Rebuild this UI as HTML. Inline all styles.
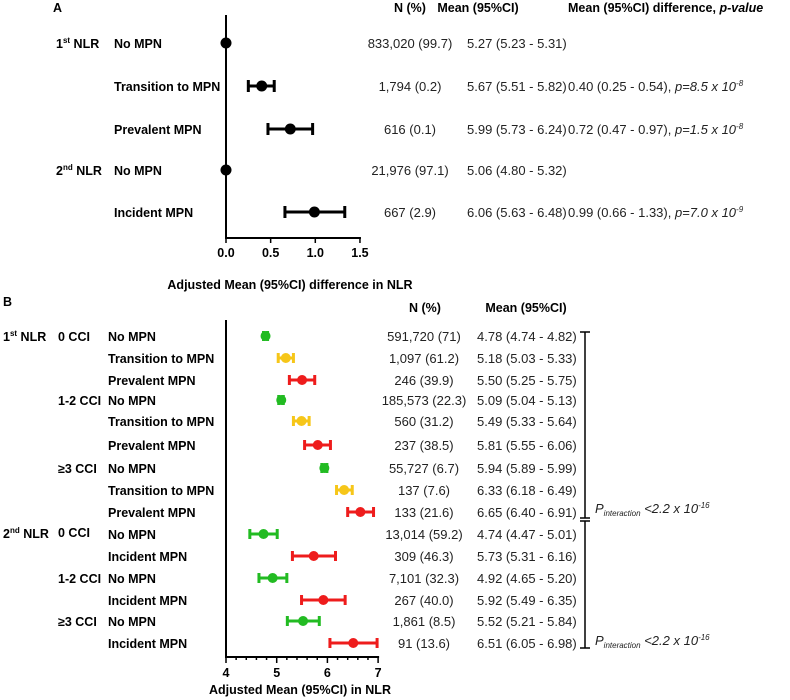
<!DOCTYPE html>
<html><head><meta charset="utf-8"><style>
body{margin:0;background:#fff}
svg{display:block;font-family:"Liberation Sans",Arial,sans-serif}
.b{font-weight:bold;font-size:12.5px}
.t{font-size:13px;fill:#222}
</style></head><body>
<svg id="c" width="790" height="700" viewBox="0 0 790 700">
<text x="53" y="12" class="b">A</text>
<text x="410" y="12" class="b" text-anchor="middle">N (%)</text>
<text x="478" y="12" class="b" text-anchor="middle">Mean (95%CI)</text>
<text x="568" y="12" class="b">Mean (95%CI) difference, <tspan font-style="italic">p-value</tspan></text>
<text x="56" y="48" class="b">1<tspan font-size="8" dy="-5">st</tspan><tspan dy="5"> NLR</tspan></text>
<text x="56" y="175" class="b">2<tspan font-size="8" dy="-5">nd</tspan><tspan dy="5"> NLR</tspan></text>
<g id="ga"></g>
<text x="290" y="289" class="b" text-anchor="middle">Adjusted Mean (95%CI) difference in NLR</text>

<text x="3" y="306" class="b">B</text>
<text x="425" y="312" class="b" text-anchor="middle">N (%)</text>
<text x="526" y="312" class="b" text-anchor="middle">Mean (95%CI)</text>
<text x="3" y="341" class="b">1<tspan font-size="8" dy="-5">st</tspan><tspan dy="5"> NLR</tspan></text>
<text x="3" y="538" class="b">2<tspan font-size="8" dy="-5">nd</tspan><tspan dy="5"> NLR</tspan></text>
<g id="gb"></g>
<text x="300" y="694" class="b" text-anchor="middle">Adjusted Mean (95%CI) in NLR</text>
<g stroke="#000" stroke-width="1.5">
<line x1="585" y1="332" x2="585" y2="518"/><line x1="580" y1="332" x2="590" y2="332"/>
<line x1="580" y1="518" x2="590" y2="518"/><line x1="580" y1="521" x2="590" y2="521"/>
<line x1="585" y1="521" x2="585" y2="648"/><line x1="580" y1="648" x2="590" y2="648"/>
</g>
<text x="595" y="513" class="t" font-style="italic">P<tspan font-size="8" dy="3">interaction</tspan><tspan dy="-3"> &lt;2.2 x 10</tspan><tspan font-size="8" dy="-5">-16</tspan></text>
<text x="595" y="645" class="t" font-style="italic">P<tspan font-size="8" dy="3">interaction</tspan><tspan dy="-3"> &lt;2.2 x 10</tspan><tspan font-size="8" dy="-5">-16</tspan></text>
</svg>
<script>
const NS="http://www.w3.org/2000/svg";
const aLabels=["No MPN","Transition to MPN","Prevalent MPN","No MPN","Incident MPN"];
const aEst=[0,0.40,0.72,0,0.99];
const aLo=[0,0.25,0.47,0,0.66];
const aHi=[0,0.54,0.97,0,1.33];
const aN=["833,020 (99.7)","1,794 (0.2)","616 (0.1)","21,976 (97.1)","667 (2.9)"];
const aMean=["5.27 (5.23 - 5.31)","5.67 (5.51 - 5.82)","5.99 (5.73 - 6.24)","5.06 (4.80 - 5.32)","6.06 (5.63 - 6.48)"];
const aDiff=["","0.40 (0.25 - 0.54), ","0.72 (0.47 - 0.97), ","","0.99 (0.66 - 1.33), "];
const aP=["","8.5","1.5","","7.0"];
const aPexp=["","-8","-8","","-9"];
const aTicks=[0,0.5,1.0,1.5];

const bCci=["0 CCI","","","1-2 CCI","","","≥3 CCI","","","0 CCI","","1-2 CCI","","≥3 CCI",""];
const bLabels=["No MPN","Transition to MPN","Prevalent MPN","No MPN","Transition to MPN","Prevalent MPN","No MPN","Transition to MPN","Prevalent MPN","No MPN","Incident MPN","No MPN","Incident MPN","No MPN","Incident MPN"];
const bEst=[4.78,5.18,5.50,5.09,5.49,5.81,5.94,6.33,6.65,4.74,5.73,4.92,5.92,5.52,6.51];
const bLo=[4.74,5.03,5.25,5.04,5.33,5.55,5.89,6.18,6.40,4.47,5.31,4.65,5.49,5.21,6.05];
const bHi=[4.82,5.33,5.75,5.13,5.64,6.06,5.99,6.49,6.91,5.01,6.16,5.20,6.35,5.84,6.98];
const bN=["591,720 (71)","1,097 (61.2)","246 (39.9)","185,573 (22.3)","560 (31.2)","237 (38.5)","55,727 (6.7)","137 (7.6)","133 (21.6)","13,014 (59.2)","309 (46.3)","7,101 (32.3)","267 (40.0)","1,861 (8.5)","91 (13.6)"];
const bMean=["4.78 (4.74 - 4.82)","5.18 (5.03 - 5.33)","5.50 (5.25 - 5.75)","5.09 (5.04 - 5.13)","5.49 (5.33 - 5.64)","5.81 (5.55 - 6.06)","5.94 (5.89 - 5.99)","6.33 (6.18 - 6.49)","6.65 (6.40 - 6.91)","4.74 (4.47 - 5.01)","5.73 (5.31 - 6.16)","4.92 (4.65 - 5.20)","5.92 (5.49 - 6.35)","5.52 (5.21 - 5.84)","6.51 (6.05 - 6.98)"];
const bType=["no","tr","pr","no","tr","pr","no","tr","pr","no","pr","no","pr","no","pr"];
const bTicks=[4,5,6,7];
const colors={no:"#22bb22",tr:"#f6c619",pr:"#ee1c1c"};

const aRowY=[43,86,129,170,212];
const bRowY=[336,358,380,400,421,445,468,490,512,534,556,578,600,621,643];
const ax=v=>226+v*89.3;
const bx=v=>226+(v-4)*50.7;

function el(p,tag,at,txt){const e=document.createElementNS(NS,tag);for(const k in at)e.setAttribute(k,at[k]);if(txt!==undefined)e.textContent=txt;p.appendChild(e);return e;}

// Panel A
const ga=document.getElementById("ga");
let ln=el(ga,"line",{x1:226,y1:15,x2:226,y2:238,stroke:"#000","stroke-width":2});


ln=el(ga,"line",{x1:225,y1:238,x2:ax(1.5)+1,y2:238,stroke:"#000","stroke-width":2});


aTicks.forEach((t,i)=>{
  const tk=el(ga,"line",{x1:ax(t),y1:238,x2:ax(t),y2:243,stroke:"#000","stroke-width":1.5});
  
  
  const tl=el(ga,"text",{x:ax(t),y:257,"text-anchor":"middle",class:"b"},t.toFixed(1));
  
  
});
aLabels.forEach((l,i)=>{
  const y=aRowY[i];
  const lb=el(ga,"text",{x:114,y:y+5,class:"b"},l);
  
  
  if(aHi[i]>aLo[i]){
    const g=el(ga,"g",{stroke:"#000","stroke-width":3});
    
    
    el(g,"line",{x1:ax(aLo[i]),y1:y,x2:ax(aHi[i]),y2:y});
    el(g,"line",{x1:ax(aLo[i]),y1:y-6,x2:ax(aLo[i]),y2:y+6});
    el(g,"line",{x1:ax(aHi[i]),y1:y-6,x2:ax(aHi[i]),y2:y+6});
  }
  const c=el(ga,"circle",{cx:ax(aEst[i]),cy:y,r:5.5,fill:"#000"});
  
  
  const n=el(ga,"text",{x:410,y:y+5,"text-anchor":"middle",class:"t"},aN[i]);
  
  
  const m=el(ga,"text",{x:467,y:y+5,class:"t"},aMean[i]);
  
  
  if(aDiff[i]){
    const d=el(ga,"text",{x:568,y:y+5,class:"t"},aDiff[i]);
    
    
    el(d,"tspan",{"font-style":"italic"},"p="+aP[i]+" x 10");
    el(d,"tspan",{"font-style":"italic","font-size":"8",dy:"-5"},aPexp[i]);
  }
});

// Panel B
const gb=document.getElementById("gb");
ln=el(gb,"line",{x1:226,y1:320,x2:226,y2:657,stroke:"#000","stroke-width":2});


ln=el(gb,"line",{x1:225,y1:657,x2:bx(7)+1,y2:657,stroke:"#000","stroke-width":2});


for(let v=4;v<=7.001;v+=0.2){
  const big=Math.abs(v-Math.round(v))<0.01;
  const tk=el(gb,"line",{x1:bx(v),y1:657,x2:bx(v),y2:big?663:660,stroke:"#000","stroke-width":1.5});
  
  
}
bTicks.forEach(t=>{
  const tl=el(gb,"text",{x:bx(t),y:677,"text-anchor":"middle",class:"b"},String(t));
  
  
});
bLabels.forEach((l,i)=>{
  const y=bRowY[i];
  if(bCci[i]){
    const cc=el(gb,"text",{x:58,y:(i===9?y-2:y)+5,class:"b"},bCci[i]);
    
    
  }
  const lb=el(gb,"text",{x:108,y:y+5,class:"b"},l);
  
  
  const col=colors[bType[i]];
  const g=el(gb,"g",{stroke:col,"stroke-width":3});
  
  
  el(g,"line",{x1:bx(bLo[i]),y1:y,x2:bx(bHi[i]),y2:y});
  el(g,"line",{x1:bx(bLo[i]),y1:y-5,x2:bx(bLo[i]),y2:y+5});
  el(g,"line",{x1:bx(bHi[i]),y1:y-5,x2:bx(bHi[i]),y2:y+5});
  const c=el(gb,"circle",{cx:bx(bEst[i]),cy:y,r:5,fill:col});
  
  
  const n=el(gb,"text",{x:424,y:y+5,"text-anchor":"middle",class:"t"},bN[i]);
  
  
  const m=el(gb,"text",{x:477,y:y+5,class:"t"},bMean[i]);
  
  
});
</script>
</body></html>
